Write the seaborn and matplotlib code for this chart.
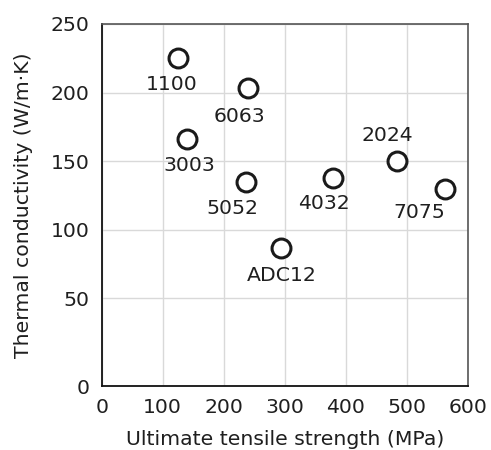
import matplotlib
matplotlib.use("Agg")
import matplotlib.pyplot as plt
import seaborn as sns
import pandas as pd

# aluminium alloys: tensile strength vs thermal conductivity
alloys = ["1100", "6063", "3003", "2024", "5052", "4032", "7075", "ADC12"]
uts_mpa = [125, 240, 140, 484, 237, 380, 563, 294]
conductivity = [225, 203, 166, 150, 135, 138, 130, 87]

df = pd.DataFrame({"alloy": alloys, "uts": uts_mpa, "k": conductivity})

# label offsets in pixels (dx, dy), dy positive = up
label_offsets = {
    "1100": (-6, -26), "6063": (-9, -28), "3003": (2, -26), "2024": (-10, 26),
    "5052": (-14, -27), "4032": (-10, -26), "7075": (-26, -24), "ADC12": (1, -28),
}

sns.set_style("whitegrid")
plt.rcParams["font.family"] = ["DejaVu Sans"]

fs = 14.7
txt = "#1f1f1f"

fig = plt.figure(figsize=(4.91, 4.5), dpi=100)
ax = fig.add_axes([0.207, 0.1416, 0.7455, 0.8051])

sns.scatterplot(data=df, x="uts", y="k", ax=ax, s=185, marker="o",
                facecolor="white", edgecolor="#1a1a1a", linewidth=2.2, zorder=3)

for a, x, y in zip(alloys, uts_mpa, conductivity):
    dx, dy = label_offsets[a]
    ax.annotate(a, (x, y), xytext=(dx, dy), textcoords="offset pixels",
                ha="center", va="center", fontsize=fs, color=txt)

ymin = -14
ax.set_xlim(0, 600)
ax.set_ylim(ymin, 250)
ax.set_xticks([0, 100, 200, 300, 400, 500, 600])
ax.set_yticks([ymin, 50, 100, 150, 200, 250])
ax.set_yticklabels(["0", "50", "100", "150", "200", "250"])
ax.tick_params(axis="both", length=0, labelsize=fs, colors=txt, pad=8.5)

ax.grid(True, color="#d9d9d9", linewidth=1)
for side in ["left", "bottom"]:
    ax.spines[side].set_color("#111111")
    ax.spines[side].set_linewidth(1.3)
for side in ["top", "right"]:
    ax.spines[side].set_color("#555555")
    ax.spines[side].set_linewidth(1.2)

ax.set_xlabel("Ultimate tensile strength (MPa)", fontsize=fs, color=txt, labelpad=9)
ax.set_ylabel("Thermal conductivity (W/m·K)", fontsize=fs, color=txt, labelpad=13)

fig.savefig("out.png", dpi=100)
plt.close(fig)
